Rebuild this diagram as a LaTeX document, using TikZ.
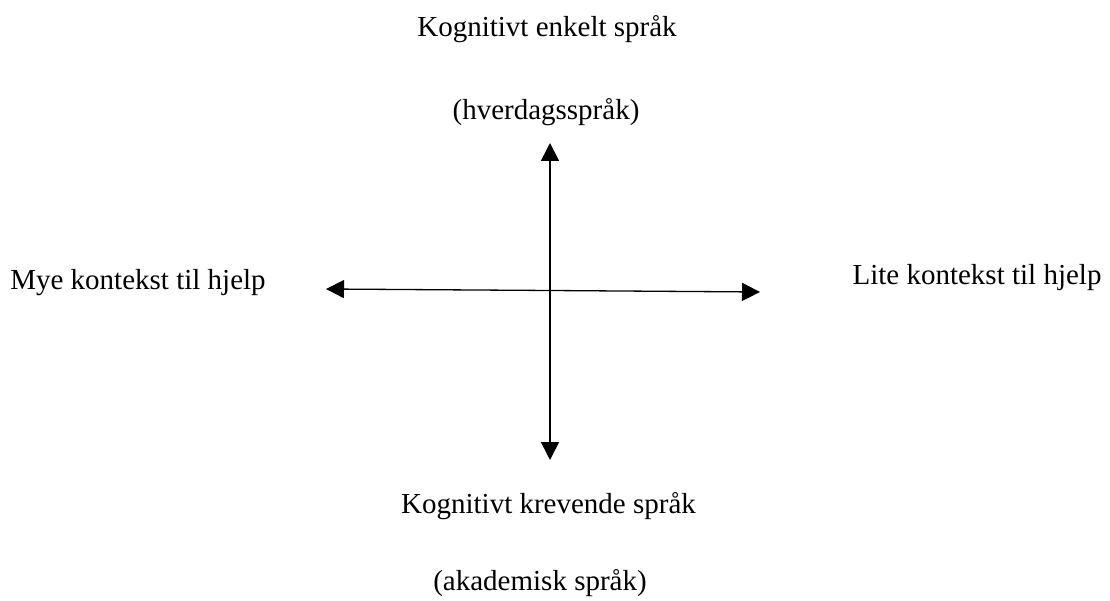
\documentclass[tikz,border=0pt]{standalone}
\usepackage{fontspec}
\setmainfont{Liberation Serif}
\usetikzlibrary{arrows.meta}
\tikzset{
  lbl/.style={anchor=base, inner sep=0pt, font=\fontsize{29}{35}\selectfont},
  axis/.style={line width=1.6pt, -{Triangle[length=18pt,width=18pt]}},
}
\begin{document}
\begin{tikzpicture}[x=1pt,y=-1pt]
\useasboundingbox (0,0) rectangle (1110,601);
% axis end points
\coordinate (top) at (550,143);
\coordinate (bottom) at (550,460);
\coordinate (left) at (326,289);
\coordinate (right) at (760,292);
\coordinate (centre) at (550,290.5);
% axes
\draw[axis] (centre) -- (top);
\draw[axis] (centre) -- (bottom);
\draw[axis, line width=1.3pt] (centre) -- (left);
\draw[axis, line width=1.3pt] (centre) -- (right);
% labels
\node[lbl] (enkel) at (547,37) {Kognitivt enkelt språk};
\node[lbl] (hverdag) at (546,120) {(hverdagsspråk)};
\node[lbl] (mye) at (138,290) {Mye kontekst til hjelp};
\node[lbl] (lite) at (977,285) {Lite kontekst til hjelp};
\node[lbl] (krevende) at (548.5,513) {Kognitivt krevende språk};
\node[lbl] (akademisk) at (540,590) {(akademisk språk)};
\end{tikzpicture}
\end{document}
